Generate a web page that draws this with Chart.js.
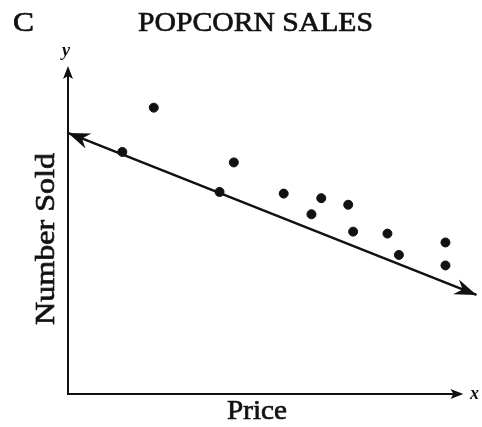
<!DOCTYPE html>
<html>
<head>
	<title>Popcorn Sales</title>
	<meta charset="utf-8">
	<script src="https://cdn.jsdelivr.net/npm/chart.js@4"></script>
	<style>
		body { margin: 0; background: #fff; }
	</style>
</head>
<body>
<canvas id="popcorn" width="482" height="427"></canvas>
<script>
// price and number sold (0-10 scale, no units shown)
var price      = [1.33, 2.10, 3.71, 4.06, 5.28, 5.96, 6.20, 6.86, 6.98, 7.82, 8.10, 9.24, 9.24];
var numberSold = [7.38, 8.73, 6.16, 7.06, 6.11, 5.48, 5.97, 5.77, 4.95, 4.89, 4.24, 4.62, 3.92];

// line of best fit, both ends have arrows
var fitX = [0, 10];
var fitY = [7.96, 3.02];

// how far the axes reach
var xAxisEnd = 9.68;
var yAxisEnd = 10;

var serif = "'Liberation Serif', 'DejaVu Serif', serif";

function arrow(ctx, x1, y1, x2, y2, len, half, notch) {
  // filled arrow head at (x2,y2), pointing away from (x1,y1)
  var a = Math.atan2(y2 - y1, x2 - x1);
  ctx.save();
  ctx.translate(x2, y2);
  ctx.rotate(a);
  ctx.beginPath();
  ctx.moveTo(0, 0);
  ctx.lineTo(-len, -half);
  ctx.lineTo(-len + notch, 0);
  ctx.lineTo(-len, half);
  ctx.closePath();
  ctx.fill();
  ctx.restore();
}

function fitText(ctx, text, x, y, width, size, style) {
  ctx.font = (style || "") + " " + size + "px " + serif;
  var w = ctx.measureText(text).width;
  ctx.save();
  ctx.translate(x, y);
  ctx.scale(width / w, 1);
  ctx.fillText(text, 0, 0);
  ctx.lineWidth = 0.7;
  ctx.strokeText(text, 0, 0);
  ctx.restore();
}

var decor = {
  id: 'decor',
  beforeDatasetsDraw: function(chart) {
    var ctx = chart.ctx, xs = chart.scales.x, ys = chart.scales.y;
    var x0 = xs.getPixelForValue(0), y0 = ys.getPixelForValue(0);
    var xe = xs.getPixelForValue(xAxisEnd), ye = ys.getPixelForValue(yAxisEnd);
    ctx.save();
    ctx.strokeStyle = '#111';
    ctx.fillStyle = '#111';
    ctx.lineWidth = 2;
    ctx.beginPath();
    ctx.moveTo(x0, ye + 6);
    ctx.lineTo(x0, y0);
    ctx.lineTo(xe - 6, y0);
    ctx.stroke();
    arrow(ctx, x0, y0, x0, ye, 13, 5, 3);
    arrow(ctx, x0, y0, xe, y0, 13, 5, 3);
    ctx.restore();
  },
  afterDatasetsDraw: function(chart) {
    var ctx = chart.ctx, xs = chart.scales.x, ys = chart.scales.y;
    var ax = xs.getPixelForValue(fitX[0]), ay = ys.getPixelForValue(fitY[0]);
    var bx = xs.getPixelForValue(fitX[1]), by = ys.getPixelForValue(fitY[1]);
    ctx.save();
    ctx.fillStyle = '#111';
    ctx.strokeStyle = '#111';
    arrow(ctx, bx, by, ax, ay, 22, 8, 7);
    arrow(ctx, ax, ay, bx, by, 22, 8, 7);

    ctx.textBaseline = 'alphabetic';
    ctx.textAlign = 'left';
    fitText(ctx, 'C', 13, 31, 21, 28, '');
    fitText(ctx, 'POPCORN SALES', 138, 31, 235, 28, '');
    fitText(ctx, 'Price', 227, 419, 60, 28, '');
    ctx.font = 'italic bold 18px ' + serif;
    ctx.fillText('y', 62, 56);
    ctx.fillText('x', 470, 399);

    ctx.save();
    ctx.translate(54, 325);
    ctx.rotate(-Math.PI / 2);
    fitText(ctx, 'Number Sold', 0, 0, 172, 28, '');
    ctx.restore();
    ctx.restore();
  }
};

var points = price.map(function(p, i) { return { x: p, y: numberSold[i] }; });
var fitLine = fitX.map(function(p, i) { return { x: p, y: fitY[i] }; });

new Chart(document.getElementById('popcorn'), {
  type: 'scatter',
  data: {
    datasets: [
      {
        label: 'Sales',
        data: points,
        backgroundColor: '#111',
        borderColor: '#111',
        pointRadius: 4.5,
        pointHoverRadius: 4.5
      },
      {
        label: 'Trend',
        type: 'line',
        data: fitLine,
        borderColor: '#111',
        borderWidth: 2.5,
        pointRadius: 0,
        fill: false,
        clip: false
      }
    ]
  },
  options: {
    responsive: false,
    animation: false,
    layout: { padding: { left: 68, right: 4, top: 66, bottom: 33 } },
    plugins: {
      legend: { display: false },
      tooltip: { enabled: false },
      title: { display: false }
    },
    scales: {
      x: { type: 'linear', min: 0, max: 10, display: false },
      y: { type: 'linear', min: 0, max: 10, display: false }
    }
  },
  plugins: [decor]
});
</script>
</body>
</html>
